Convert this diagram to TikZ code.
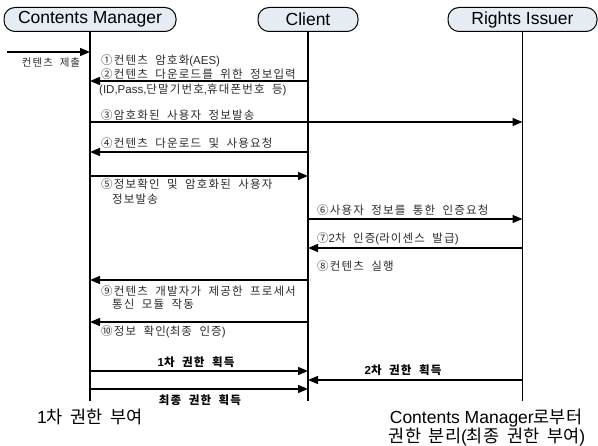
\documentclass[tikz,border=0pt]{standalone}
\usepackage{fontspec}
\setmainfont{Liberation Sans}
\newfontfamily\koS{Noto Sans CJK KR}[LetterSpace=10,WordSpace=2]
\newfontfamily\koL{Noto Sans CJK KR}[WordSpace=2]
\usetikzlibrary{arrows.meta}
\definecolor{boxfill}{HTML}{E6ECF4}
\definecolor{lbltext}{HTML}{2A2A2A}
\newcommand\hk[1]{{\koS #1}}
\newcommand\hkL[1]{{\koL #1}}
\tikzset{
  actor/.style={draw, line width=1pt, fill=boxfill, rounded corners=11pt,
    minimum height=24pt, inner sep=0pt, font=\fontsize{17.5}{20}\selectfont},
  life/.style={line width=1.4pt},
  msg/.style={line width=1.3pt, -{Triangle[length=10pt,width=8pt]}},
  lbl/.style={inner sep=0pt, anchor=west, text=lbltext, font=\fontsize{11.5}{13}\selectfont},
  blbl/.style={inner sep=0pt, anchor=center, text=black, font=\fontsize{11.5}{13}\selectfont\bfseries},
  big/.style={inner sep=0pt, anchor=center, text=black, font=\fontsize{17.5}{20}\selectfont}
}
\begin{document}
\begin{tikzpicture}[x=1pt,y=-1pt]
\useasboundingbox (0,0) rectangle (598,446);
% actors
\node[actor, minimum width=172pt] (cm) at (90,19.5) {Contents Manager};
\node[actor, minimum width=100pt] (cl) at (308,19.5) {Client};
\node[actor, minimum width=149pt] (ri) at (522.5,19.5) {Rights Issuer};
% lifelines
\coordinate (cmEnd) at (90,401);
\coordinate (clEnd) at (308,401);
\coordinate (riEnd) at (522.5,401);
\draw[life] (cm.south) -- (cmEnd);
\draw[life] (cl.south) -- (clEnd);
\draw[life] (ri.south) -- (riEnd);
% submit
\coordinate (sub) at (7,52);
\coordinate (cm0) at (90,52);
\draw[msg] (sub) -- (cm0);
\node[inner sep=0pt, text=lbltext, font=\fontsize{10.5}{12}\selectfont] (subl) at (51,63) {\hk{컨텐츠 제출}};
% 1
\node[lbl] (t1) at (101,61) {\hk{①컨텐츠 암호화}(AES)};
% 2
\coordinate (cm2) at (90,81); \coordinate (cl2) at (308,81);
\draw[msg] (cl2) -- (cm2);
\node[lbl] (t2a) at (101,74) {\hk{②컨텐츠 다운로드를 위한 정보입력}};
\node[lbl] (t2b) at (99,90) {(ID,Pass,\hk{단말기번호},\hk{휴대폰번호 등})};
% 3
\coordinate (cm3) at (90,122); \coordinate (ri3) at (522.5,122);
\draw[msg] (cm3) -- (ri3);
\node[lbl] (t3) at (101,115) {\hk{③암호화된 사용자 정보발송}};
% 4
\coordinate (cm4) at (90,152); \coordinate (cl4) at (308,152);
\draw[msg] (cl4) -- (cm4);
\node[lbl] (t4) at (101,143) {\hk{④컨텐츠 다운로드 및 사용요청}};
% 5
\coordinate (cm5) at (90,176); \coordinate (cl5) at (308,176);
\draw[msg] (cm5) -- (cl5);
\node[lbl] (t5a) at (101,184) {\hk{⑤정보확인 및 암호화된 사용자}};
\node[lbl] (t5b) at (112,199) {\hk{정보발송}};
% 6
\coordinate (cl6) at (308,219); \coordinate (ri6) at (522.5,219);
\draw[msg] (cl6) -- (ri6);
\node[lbl] (t6) at (317,210) {\hk{⑥사용자 정보를 통한 인증요청}};
% 7
\coordinate (cl7) at (308,248); \coordinate (ri7) at (522.5,248);
\draw[msg] (ri7) -- (cl7);
\node[lbl] (t7) at (317,239) {\hk{⑦}2\hk{차 인증}(\hk{라이센스 발급})};
% 8
\node[lbl] (t8) at (317,266) {\hk{⑧컨텐츠 실행}};
% 9
\coordinate (cm9) at (90,280); \coordinate (cl9) at (308,280);
\draw[msg] (cl9) -- (cm9);
\node[lbl] (t9a) at (101,291) {\hk{⑨컨텐츠 개발자가 제공한 프로세서}};
\node[lbl] (t9b) at (112,304) {\hk{통신 모듈 작동}};
% 10
\coordinate (cm10) at (90,322); \coordinate (cl10) at (308,322);
\draw[msg] (cl10) -- (cm10);
\node[lbl] (t10) at (101,332) {\hk{⑩정보 확인}(\hk{최종 인증})};
% rights
\coordinate (cmA) at (90,371); \coordinate (clA) at (308,371);
\draw[msg] (cmA) -- (clA);
\node[blbl] (tA) at (196,362) {1\hk{차 권한 획득}};
\coordinate (clB) at (308,380); \coordinate (riB) at (522.5,380);
\draw[msg] (riB) -- (clB);
\node[blbl] (tB) at (403,370) {2\hk{차 권한 획득}};
\coordinate (cmC) at (90,389); \coordinate (clC) at (308,389);
\draw[msg] (cmC) -- (clC);
\node[blbl] (tC) at (200,400) {\hk{최종 권한 획득}};
% bottom notes
\node[big] (n1) at (90,417) {1\hkL{차 권한 부여}};
\node[big] (n2a) at (486,418) {Contents Manager\hkL{로부터}};
\node[big] (n2b) at (487,437) {\hkL{권한 분리}(\hkL{최종 권한 부여})};
\end{tikzpicture}
\end{document}
